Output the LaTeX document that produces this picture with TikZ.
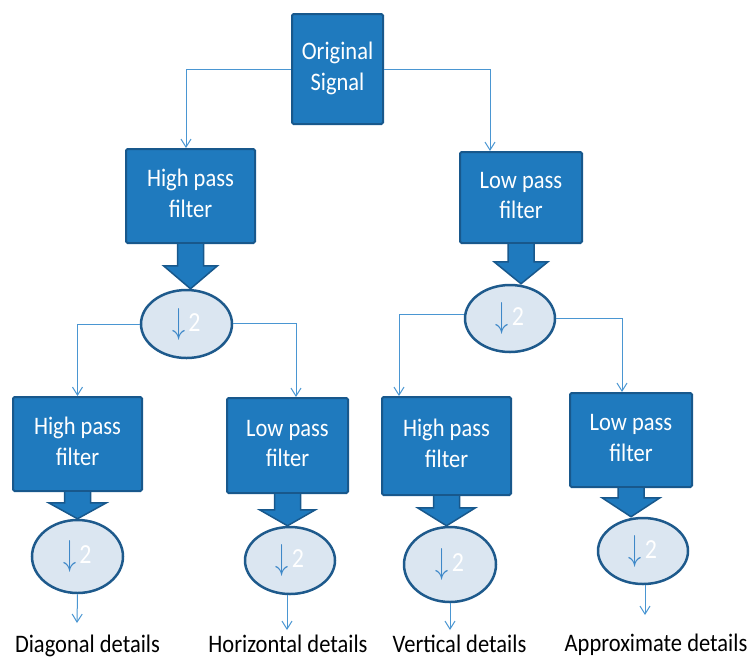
\documentclass[tikz,border=0pt]{standalone}
\usepackage{fontspec}
\setmainfont{Carlito}
\usepackage{graphicx}
\usetikzlibrary{shapes.geometric,arrows.meta,calc}
\definecolor{boxfill}{RGB}{31,122,190}
\definecolor{boxdraw}{RGB}{24,88,140}
\definecolor{ellfill}{RGB}{219,230,241}
\definecolor{elldraw}{RGB}{30,90,140}
\definecolor{connc}{RGB}{74,150,210}
\definecolor{ellarrow}{RGB}{60,135,200}
\tikzset{
 filterbox/.style={rectangle, rounded corners=1.5pt, fill=boxfill, draw=boxdraw, line width=2pt, text=white, align=center, font=\fontsize{22.5pt}{27pt}\selectfont, inner sep=0pt},
 downs/.style={ellipse, fill=ellfill, draw=elldraw, line width=2.5pt, inner sep=0pt, font=\fontsize{24pt}{26pt}\selectfont, text=white},
 conn/.style={draw=connc, line width=1pt, -{Straight Barb[length=8pt,width=10pt]}},
 fat/.style={fill=boxfill, draw=boxdraw, line width=1.5pt, line join=miter},
 outlabel/.style={font=\fontsize{22.5pt}{26pt}\selectfont, text=black, inner sep=0pt, anchor=base}
}
\newcommand\bt[2]{\scalebox{1}[1.12]{\begin{tabular}{@{}c@{}}#1\\#2\end{tabular}}}
\newcommand\st[1]{\scalebox{1}[1.12]{#1}}
\newcommand\dtwo{\raisebox{-1pt}{\color{ellarrow}\scalebox{1.05}[1.45]{$\downarrow$}}\hspace{3pt}\raisebox{1pt}{\scalebox{1}[1.15]{2}}}
\newcommand\fatarrow[4]{% box, ellipse, headlength, halfwidth
 \path[fat] let \p1=(#1.south), \p2=(#2.north) in
 (\x1-13pt,\y1+1pt) -- (\x1-13pt,\y2+#3) -- (\x1-#4,\y2+#3) -- (\x1,\y2) -- (\x1+#4,\y2+#3) -- (\x1+13pt,\y2+#3) -- (\x1+13pt,\y1+1pt) -- cycle;}
\begin{document}
\begin{tikzpicture}[x=1pt,y=-1pt]
\useasboundingbox (0,0) rectangle (749,657);
% boxes
\node[filterbox, minimum width=91pt, minimum height=110pt] (orig) at (337.5,69) {\bt{Original}{Signal}};
\node[filterbox, minimum width=129pt, minimum height=94pt] (hpf1) at (190.5,196) {\bt{High pass}{filter}};
\node[filterbox, minimum width=122pt, minimum height=91pt] (lpf1) at (521,197.5) {\bt{Low pass}{filter}};
\node[filterbox, minimum width=129pt, minimum height=94pt] (hpfA) at (77.5,444) {\bt{High pass}{filter}};
\node[filterbox, minimum width=121pt, minimum height=95pt] (lpfB) at (287.5,445.5) {\bt{Low pass}{filter}};
\node[filterbox, minimum width=129pt, minimum height=98pt] (hpfC) at (446.5,446) {\bt{High pass}{filter}};
\node[filterbox, minimum width=122pt, minimum height=94pt] (lpfD) at (631,440) {\bt{Low pass}{filter}};
% downsamplers
\node[downs, minimum width=91pt, minimum height=68pt] (e1) at (186.5,324) {\dtwo};
\node[downs, minimum width=90pt, minimum height=67pt] (e2) at (510,318.5) {\dtwo};
\node[downs, minimum width=91pt, minimum height=73pt] (eA) at (77.5,556.5) {\dtwo};
\node[downs, minimum width=90pt, minimum height=67pt] (eB) at (290,560.5) {\dtwo};
\node[downs, minimum width=92pt, minimum height=75pt] (eC) at (450,564.5) {\dtwo};
\node[downs, minimum width=90pt, minimum height=66pt] (eD) at (643,551) {\dtwo};
% fat arrows
\fatarrow{hpf1}{e1}{23pt}{27pt}
\fatarrow{lpf1}{e2}{22pt}{27pt}
\fatarrow{hpfA}{eA}{16pt}{29pt}
\fatarrow{lpfB}{eB}{16pt}{28pt}
\fatarrow{hpfC}{eC}{18pt}{29pt}
\fatarrow{lpfD}{eD}{19pt}{29pt}
% output labels
\node[outlabel] (lA) at (87.5,652) {\st{Diagonal details}};
\node[outlabel] (lB) at (288,652) {\st{Horizontal details}};
\node[outlabel] (lC) at (459.5,652) {\st{Vertical details}};
\node[outlabel] (lD) at (656,651) {\st{Approximate details}};
\coordinate (tA) at (77,623);
\coordinate (tB) at (287,630);
\coordinate (tC) at (450,630);
\coordinate (tD) at (645,615);
% connectors
\draw[conn] (orig.west) -| ([xshift=-4.5pt]hpf1.north);
\draw[conn] (orig.east) -| ([xshift=-31pt]lpf1.north);
\draw[conn] (e1.west) -| (hpfA.north);
\draw[conn] ([yshift=1pt]e1.east) -| ([xshift=8.5pt]lpfB.north);
\draw[conn] ([yshift=4.5pt]e2.west) -| ([xshift=-47.5pt]hpfC.north);
\draw[conn] (e2.east) -| ([xshift=-9pt]lpfD.north);
\draw[conn] (eA.south) -- (tA);
\draw[conn] (eB.south -| tB) -- (tB);
\draw[conn] (eC.south) -- (tC);
\draw[conn] (eD.south -| tD) -- (tD);
\end{tikzpicture}
\end{document}
